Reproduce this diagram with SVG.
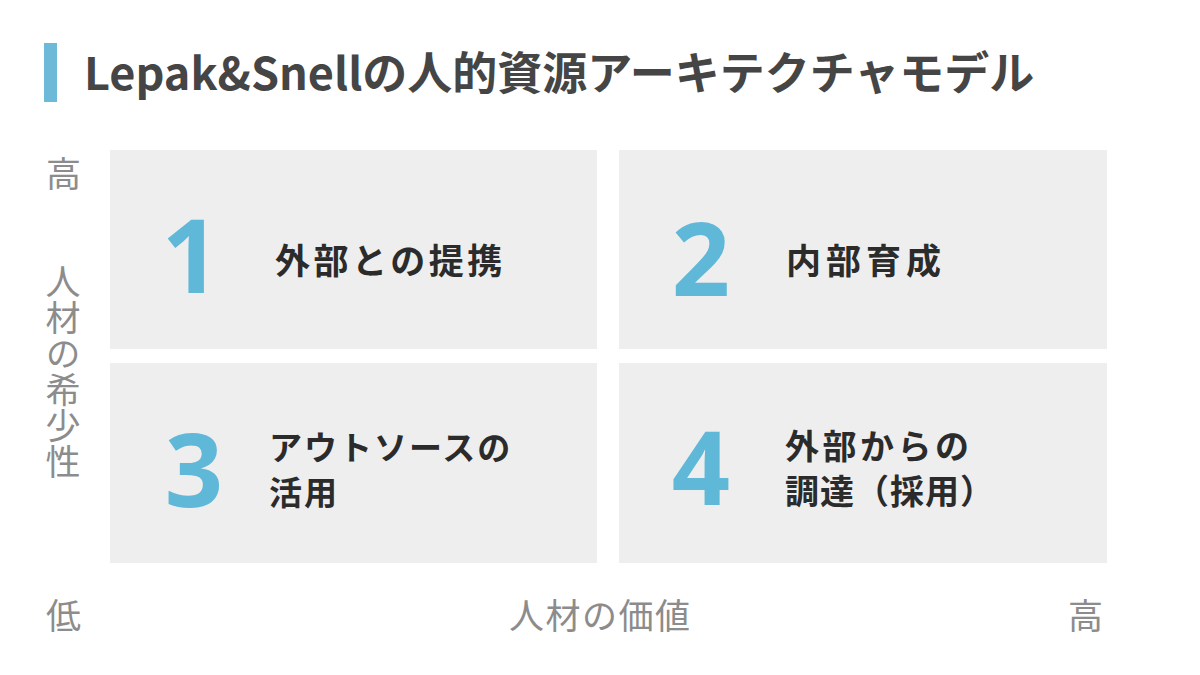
<svg xmlns="http://www.w3.org/2000/svg" width="1200" height="675" viewBox="0 0 1200 675">
<style>
.box{fill:#eeeeee}
.num{font-family:"Noto Sans","Roboto",sans-serif;font-weight:700;font-size:102px;fill:#5fb8d7;text-anchor:middle}
.lbl{font-family:"Noto Sans CJK JP",sans-serif;font-weight:700;fill:#2b2b2b}
.ax{font-family:"Noto Sans CJK JP",sans-serif;font-weight:400;font-size:35px;fill:#8c8c8c}
.title{font-family:"Noto Sans CJK JP",sans-serif;font-weight:700;font-size:45px;fill:#454545}
</style>
<rect x="0" y="0" width="1200" height="675" fill="#ffffff"/>
<g id="title">
<rect x="44" y="43" width="13" height="59" fill="#6dbad8"/>
<text class="title" x="84" y="90">Lepak&amp;Snellの人的資源アーキテクチャモデル</text>
</g>
<g id="q1">
<rect class="box" x="110" y="150" width="487" height="199"/>
<text class="num" x="191" y="293">1</text>
<text class="lbl" x="275" y="274" font-size="35" letter-spacing="3.5">外部との提携</text>
</g>
<g id="q2">
<rect class="box" x="619" y="150" width="488" height="199"/>
<text class="num" x="701" y="296">2</text>
<text class="lbl" x="786" y="274" font-size="35" letter-spacing="5">内部育成</text>
</g>
<g id="q3">
<rect class="box" x="110" y="363" width="487" height="200"/>
<text class="num" x="194" y="507">3</text>
<text class="lbl" font-size="33" letter-spacing="2"><tspan x="269" y="460">アウトソースの</tspan><tspan x="269" y="505">活用</tspan></text>
</g>
<g id="q4">
<rect class="box" x="619" y="363" width="488" height="200"/>
<text class="num" x="701" y="505">4</text>
<text class="lbl" font-size="34"><tspan x="785" y="459" letter-spacing="3.5">外部からの</tspan><tspan x="785" y="504" letter-spacing="1">調達（採用）</tspan></text>
</g>
<g id="axes">
<text class="ax" x="46" y="187">高</text>
<text class="ax" x="63" y="264" letter-spacing="1" style="writing-mode:vertical-rl">人材の希少性</text>
<text class="ax" x="46" y="629">低</text>
<text class="ax" x="509" y="629" letter-spacing="1.5">人材の価値</text>
<text class="ax" x="1068" y="629">高</text>
</g>
<g id="connectors"/>
</svg>
